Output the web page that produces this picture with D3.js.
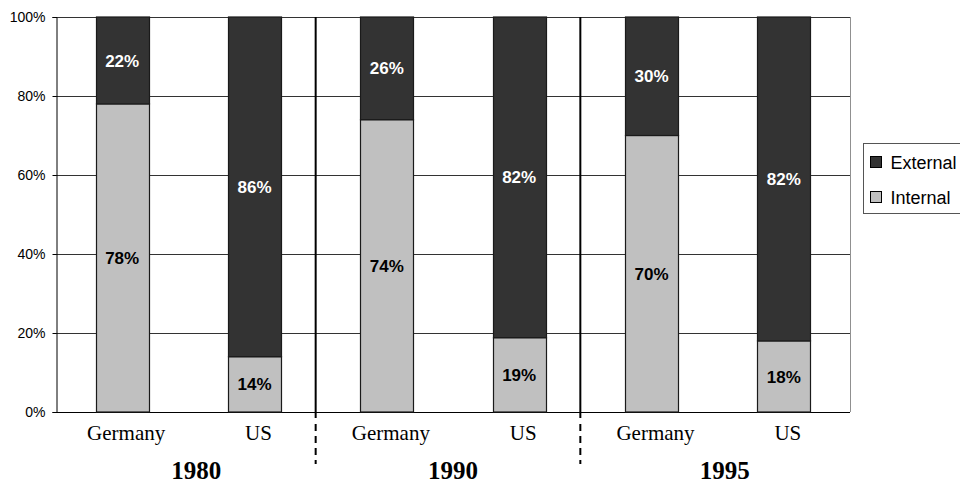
<!DOCTYPE html>
<html>
<head>
<meta charset="utf-8">
<script src="https://cdn.jsdelivr.net/npm/d3@7"></script>
<style>
    body { margin: 0; background: #fff; }
    svg { display: block; }
</style>
</head>
<body>
<script>
const years = ["1980", "1990", "1995"];
const countries = ["Germany", "US"];
const internal = [78, 14, 74, 19, 70, 18];
const external = [22, 86, 26, 82, 30, 82];
const seriesNames = ["External", "Internal"];
const yTicks = [0, 0.2, 0.4, 0.6, 0.8, 1];

const colors = {
    External: "#333333",
    Internal: "#c0c0c0",
};

const sans = "Liberation Sans, Arial, sans-serif";
const serif = "Liberation Serif, Times New Roman, serif";

const width = 960;
const height = 484;
const plot = { left: 56, right: 850, top: 17, bottom: 412 };
// the year captions were hand placed in the original, not quite centred
const yearNudge = [8, 0, 7];

const svg = d3.select(document.body).append("svg")
    .attr("width", width)
    .attr("height", height);

const bars = years.flatMap((year, yi) => countries.map((country, ci) => {
    const i = yi * countries.length + ci;
    return { key: year + country, year, country, internal: internal[i], external: external[i] };
}));

const x = d3.scaleBand()
    .domain(bars.map(d => d.key))
    .range([plot.left, plot.right])
    .paddingInner(0.6)
    .paddingOuter(0.3);

const y = d3.scaleLinear()
    .domain([0, 1])
    .range([plot.bottom, plot.top]);

// gridlines
svg.append("g")
    .selectAll("line")
    .data(yTicks)
    .join("line")
    .attr("x1", plot.left)
    .attr("x2", plot.right)
    .attr("y1", d => Math.round(y(d)) + 0.5)
    .attr("y2", d => Math.round(y(d)) + 0.5)
    .attr("stroke", d => d === 0 ? "#000" : "#333")
    .attr("stroke-width", 1);

// right border of plot area
svg.append("line")
    .attr("x1", plot.right + 0.5)
    .attr("x2", plot.right + 0.5)
    .attr("y1", plot.top)
    .attr("y2", plot.bottom)
    .attr("stroke", "#909090");

// y axis
const yAxis = svg.append("g")
    .attr("transform", `translate(${plot.left + 0.5},0)`)
    .call(d3.axisLeft(y).tickValues(yTicks).tickFormat(d3.format(".0%")).tickSize(4).tickPadding(7));
yAxis.select(".domain").attr("stroke", "#000");
yAxis.selectAll(".tick line").attr("stroke", "#000");
yAxis.selectAll("text")
    .attr("font-family", sans)
    .attr("font-size", 14)
    .attr("fill", "#000");

// stacked segments, normalised like a 100% stacked chart
const segments = bars.flatMap(d => {
    const total = d.internal + d.external;
    const split = d.internal / total;
    return [
        { bar: d, name: "Internal", value: d.internal, y0: 0, y1: split },
        { bar: d, name: "External", value: d.external, y0: split, y1: 1 },
    ];
});

svg.append("g")
    .selectAll("rect")
    .data(segments)
    .join("rect")
    .attr("x", d => Math.round(x(d.bar.key)) + 0.5)
    .attr("width", Math.round(x.bandwidth()))
    .attr("y", d => y(d.y1))
    .attr("height", d => y(d.y0) - y(d.y1))
    .attr("fill", d => colors[d.name])
    .attr("stroke", "#1a1a1a")
    .attr("stroke-width", 1.2);

svg.append("g")
    .selectAll("text")
    .data(segments)
    .join("text")
    .attr("x", d => x(d.bar.key) + x.bandwidth() / 2)
    .attr("y", d => (y(d.y0) + y(d.y1)) / 2)
    .attr("dy", "0.36em")
    .attr("text-anchor", "middle")
    .attr("font-family", sans)
    .attr("font-weight", "bold")
    .attr("font-size", 17)
    .attr("fill", d => d.name === "External" ? "#fff" : "#000")
    .text(d => d.value + "%");

// category labels
svg.append("g")
    .selectAll("text")
    .data(bars)
    .join("text")
    .attr("x", d => x(d.key) + x.bandwidth() / 2 + 4)
    .attr("y", 440)
    .attr("text-anchor", "middle")
    .attr("font-family", serif)
    .attr("font-size", 21)
    .attr("fill", "#000")
    .text(d => d.country);

// year labels, centred under each pair
const step = x.step();
svg.append("g")
    .selectAll("text")
    .data(years)
    .join("text")
    .attr("x", (d, i) => x(d + countries[0]) + x.bandwidth() / 2 + step / 2 + yearNudge[i])
    .attr("y", 479)
    .attr("text-anchor", "middle")
    .attr("font-family", serif)
    .attr("font-weight", "bold")
    .attr("font-size", 25)
    .attr("fill", "#000")
    .text(d => d);

// separators between years
const seps = years.slice(1).map(year => x(year + countries[0]) - (step - x.bandwidth()) / 2 - 5);
const sepG = svg.append("g");
sepG.selectAll("line.solid")
    .data(seps)
    .join("line")
    .attr("class", "solid")
    .attr("x1", d => d)
    .attr("x2", d => d)
    .attr("y1", plot.top)
    .attr("y2", plot.bottom + 6)
    .attr("stroke", "#000")
    .attr("stroke-width", 2);
sepG.selectAll("line.dash")
    .data(seps)
    .join("line")
    .attr("class", "dash")
    .attr("x1", d => d)
    .attr("x2", d => d)
    .attr("y1", plot.bottom + 12)
    .attr("y2", 464)
    .attr("stroke", "#000")
    .attr("stroke-width", 2)
    .attr("stroke-dasharray", "7,5");

// legend
const legend = svg.append("g").attr("transform", "translate(863.5,143.5)");
legend.append("rect")
    .attr("width", 110)
    .attr("height", 70)
    .attr("fill", "#fff")
    .attr("stroke", "#555");
const item = legend.selectAll("g")
    .data(seriesNames)
    .join("g")
    .attr("transform", (d, i) => `translate(7,${13 + i * 35})`);
item.append("rect")
    .attr("width", 11)
    .attr("height", 11)
    .attr("fill", d => colors[d])
    .attr("stroke", "#000");
item.append("text")
    .attr("x", 20)
    .attr("y", 6)
    .attr("dy", "0.36em")
    .attr("font-family", sans)
    .attr("font-size", 18)
    .attr("fill", "#000")
    .text(d => d);
</script>
</body>
</html>
